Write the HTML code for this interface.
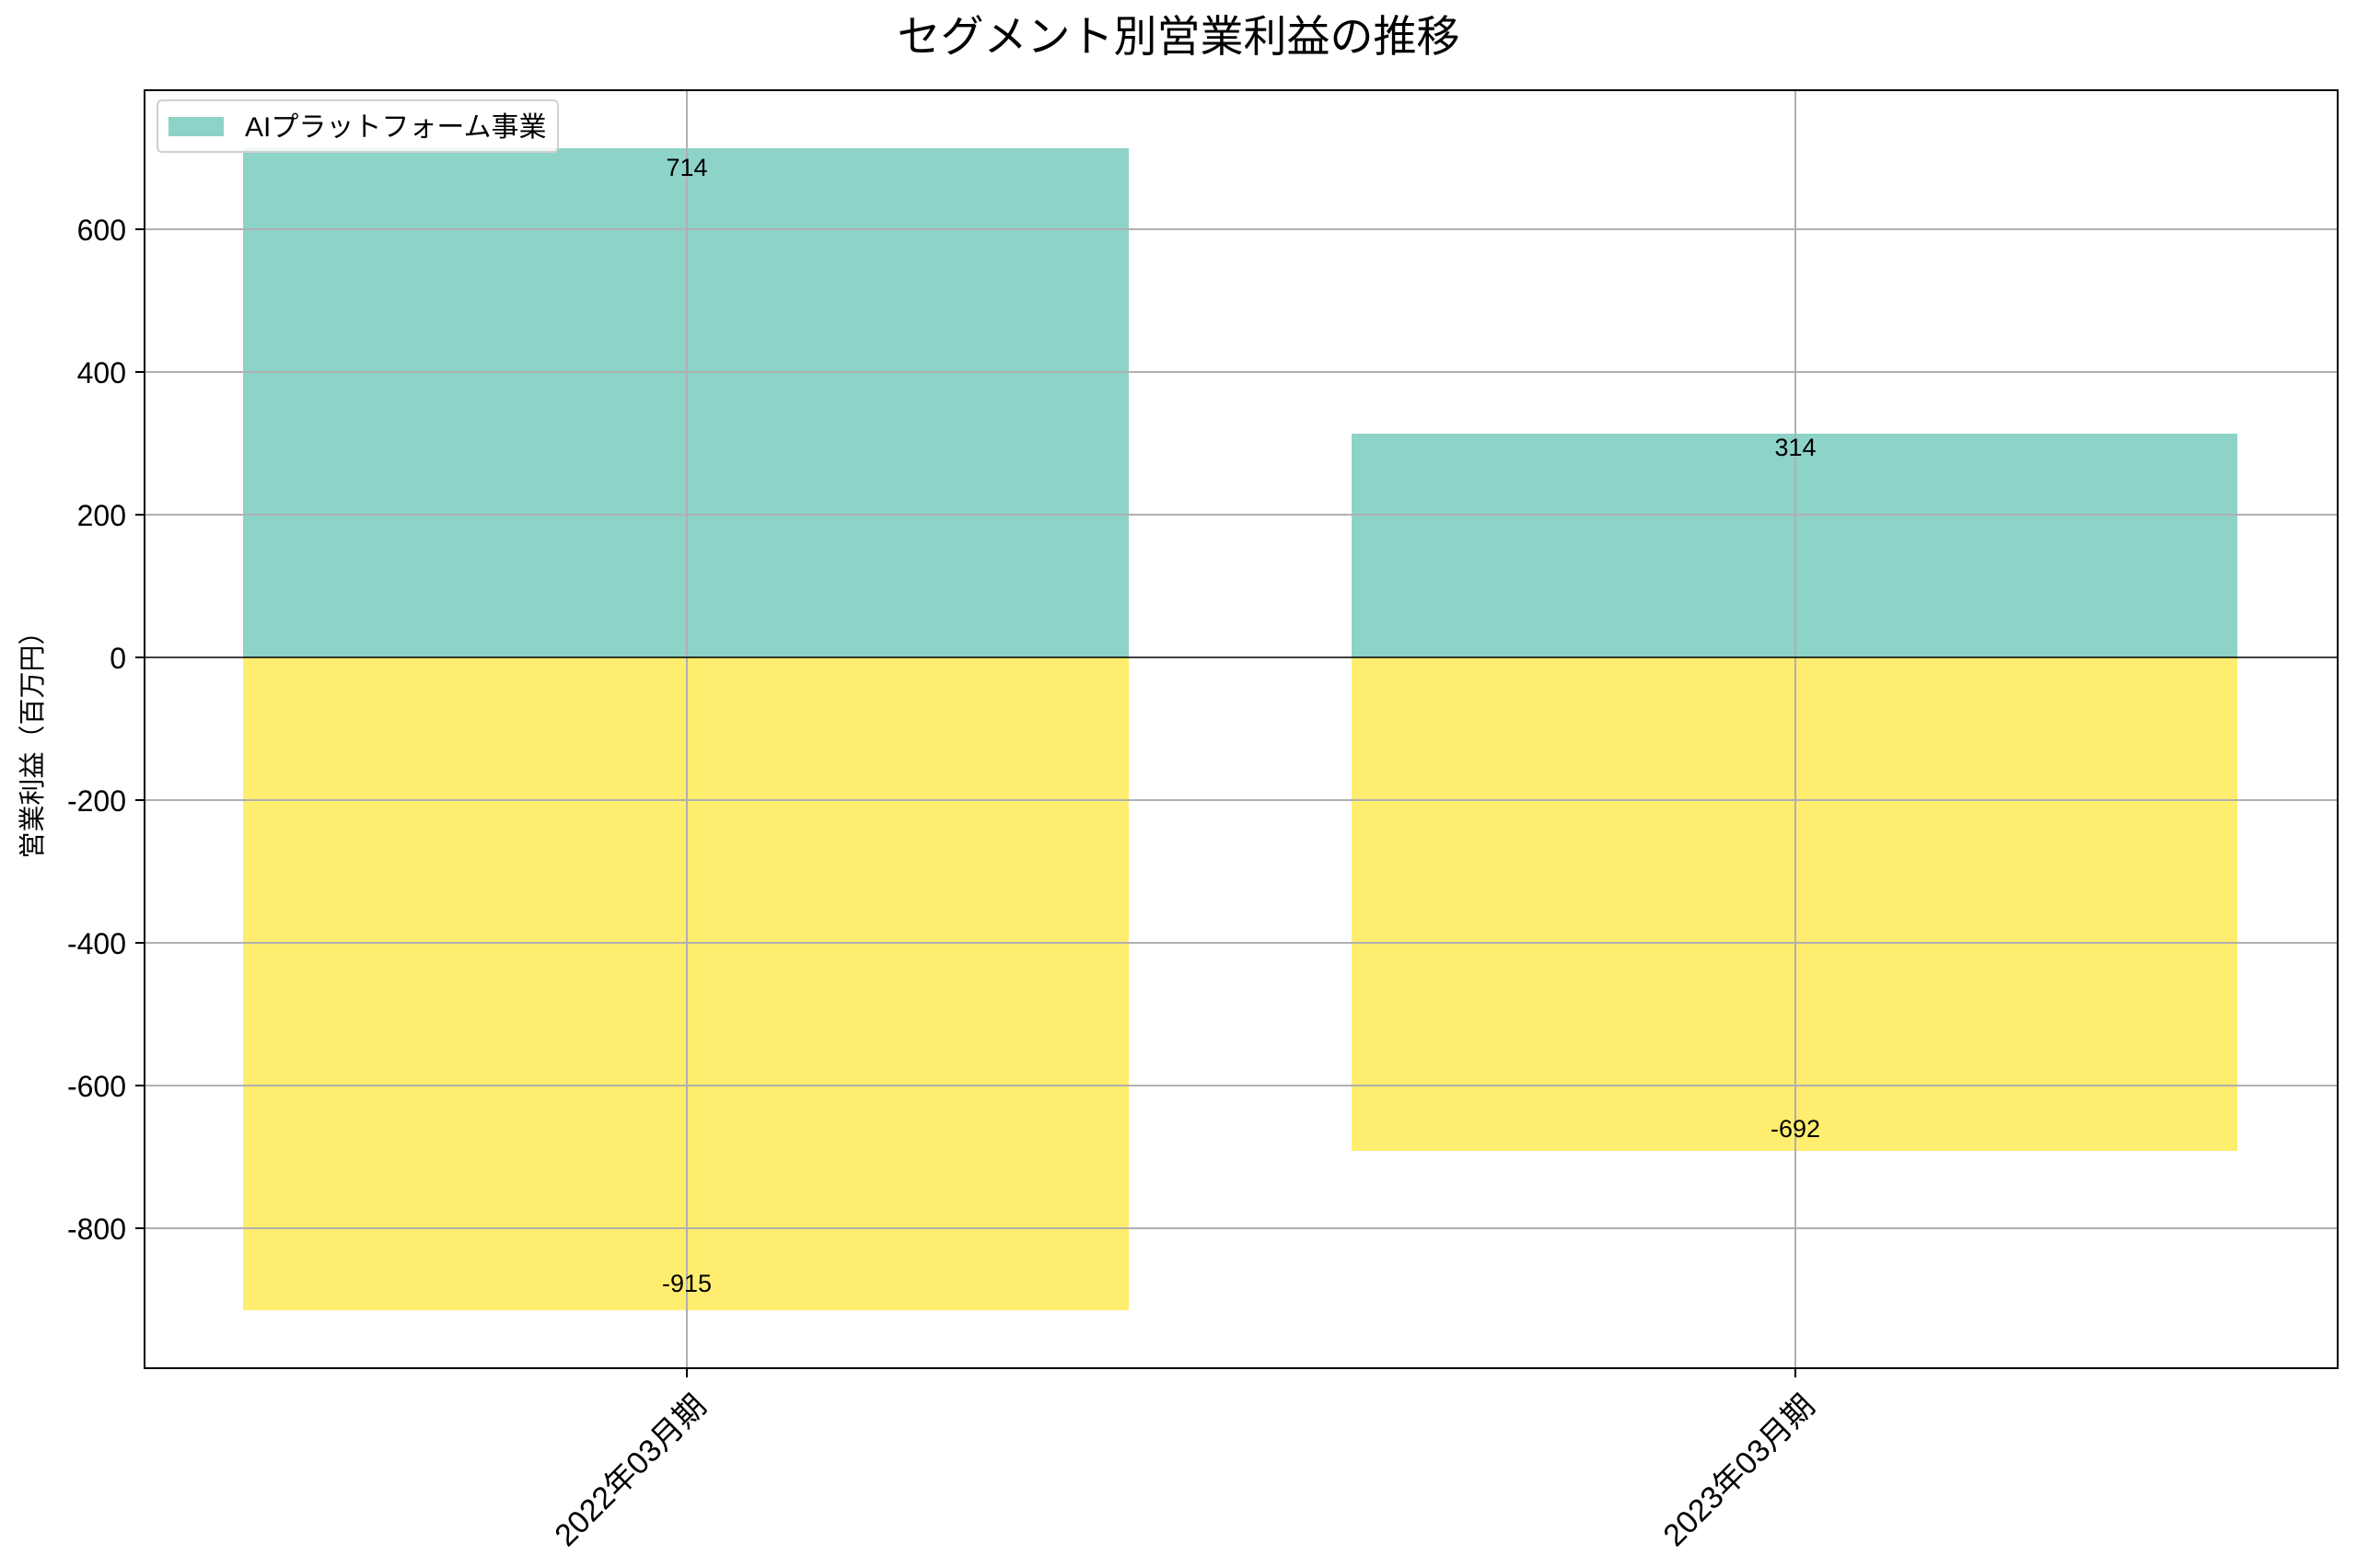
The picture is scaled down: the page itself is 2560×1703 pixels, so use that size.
<!DOCTYPE html>
<html><head><meta charset="utf-8"><style>html,body{margin:0;padding:0;background:#fff}</style></head>
<body>
<svg width="2560" height="1698" xmlns="http://www.w3.org/2000/svg" font-family="'Liberation Sans','Noto Sans CJK JP',sans-serif">
<rect width="2560" height="1698" fill="#fff"/>
<text x="1280" y="56" font-size="47" text-anchor="middle" fill="#000">セグメント別営業利益の推移</text>
<!-- bars -->
<rect x="264" y="161" width="962" height="553" fill="#8dd3c7"/>
<rect x="264" y="714" width="962" height="709" fill="#ffed6f"/>
<rect x="1468" y="471" width="962" height="243" fill="#8dd3c7"/>
<rect x="1468" y="714" width="962" height="536" fill="#ffed6f"/>
<!-- grid -->
<g stroke="#b0b0b0" stroke-width="2">
<line x1="157" x2="2539" y1="249" y2="249"/>
<line x1="157" x2="2539" y1="404" y2="404"/>
<line x1="157" x2="2539" y1="559" y2="559"/>
<line x1="157" x2="2539" y1="869" y2="869"/>
<line x1="157" x2="2539" y1="1024" y2="1024"/>
<line x1="157" x2="2539" y1="1179" y2="1179"/>
<line x1="157" x2="2539" y1="1334" y2="1334"/>
<line x1="746" x2="746" y1="98" y2="1486"/>
<line x1="1950" x2="1950" y1="98" y2="1486"/>
</g>
<line x1="157" x2="2539" y1="714" y2="714" stroke="#000" stroke-width="1.6"/>
<rect x="157" y="98" width="2382" height="1388" fill="none" stroke="#000" stroke-width="2"/>
<!-- ticks -->
<g stroke="#000" stroke-width="2">
<line x1="147" x2="157" y1="249" y2="249"/><line x1="147" x2="157" y1="404" y2="404"/>
<line x1="147" x2="157" y1="559" y2="559"/><line x1="147" x2="157" y1="714" y2="714"/>
<line x1="147" x2="157" y1="869" y2="869"/><line x1="147" x2="157" y1="1024" y2="1024"/>
<line x1="147" x2="157" y1="1179" y2="1179"/><line x1="147" x2="157" y1="1334" y2="1334"/>
<line x1="746" x2="746" y1="1486" y2="1496"/><line x1="1950" x2="1950" y1="1486" y2="1496"/>
</g>
<g font-size="32" text-anchor="end" fill="#000">
<text x="137" y="261">600</text><text x="137" y="416">400</text><text x="137" y="571">200</text>
<text x="137" y="726">0</text><text x="137" y="881">-200</text><text x="137" y="1036">-400</text>
<text x="137" y="1191">-600</text><text x="137" y="1346">-800</text>
</g>
<text transform="translate(752,1512) rotate(-45)" font-size="34" text-anchor="end" dominant-baseline="hanging">2022年03月期</text>
<text transform="translate(1956,1512) rotate(-45)" font-size="34" text-anchor="end" dominant-baseline="hanging">2023年03月期</text>
<text transform="translate(45,802) rotate(-90)" font-size="29" text-anchor="middle">営業利益（百万円）</text>
<g font-size="27" text-anchor="middle" fill="#000">
<text x="746" y="191">714</text><text x="1950" y="495">314</text>
<text x="1950" y="1235">-692</text><text x="746" y="1403">-915</text>
</g>
<!-- legend -->
<rect x="171" y="109" width="435" height="56" rx="5" fill="#fff" fill-opacity="0.85" stroke="#d0d0d0" stroke-width="2"/>
<rect x="183" y="127" width="60" height="21" fill="#8dd3c7"/>
<text x="266" y="148" font-size="30">AIプラットフォーム事業</text>
</svg>
</body></html>
